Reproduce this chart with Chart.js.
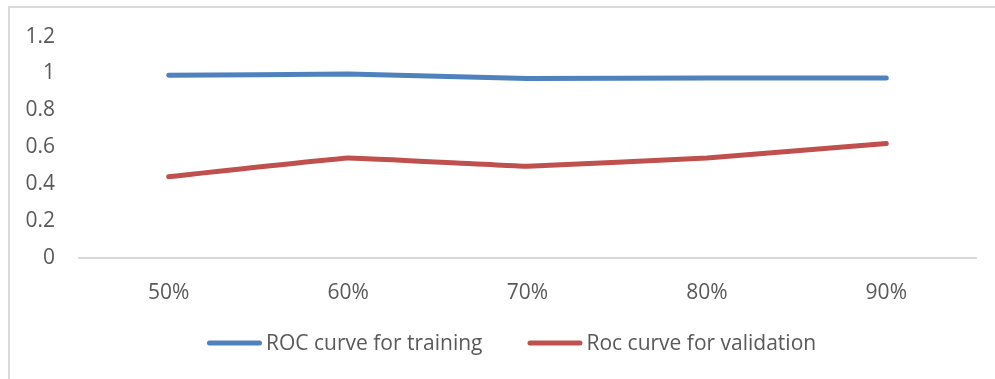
<!DOCTYPE html>
<html>
<head>
<meta charset="utf-8">
<script src="https://cdn.jsdelivr.net/npm/chart.js@4.4.1/dist/chart.umd.min.js"></script>
<style>
  html, body { margin: 0; padding: 0; background: #fff; width: 995px; height: 379px; overflow: hidden; }
  #frame { position: absolute; left: 8px; top: 6px; width: 1100px; height: 500px; border-left: 2px solid #d9d9d9; border-top: 2px solid #d9d9d9; }
  #c { position: absolute; left: 0; top: 0; }
</style>
</head>
<body>
<div id="frame"></div>
<canvas id="c" width="995" height="379"></canvas>
<script>
const categories = ["50%", "60%", "70%", "80%", "90%"];
const trainingValues = [0.99, 0.997, 0.973, 0.975, 0.975];
const validationValues = [0.441, 0.542, 0.497, 0.542, 0.621];
const seriesLabels = ["ROC curve for training", "Roc curve for validation"];
const yTicks = [0, 0.2, 0.4, 0.6, 0.8, 1, 1.2];

const FONT = "'Open Sans', sans-serif";
const TEXT = "#595959";

const legendPlugin = {
  id: "lineLegend",
  afterDraw(chart) {
    const ctx = chart.ctx;
    ctx.save();
    ctx.font = "21px " + FONT;
    ctx.textBaseline = "middle";
    ctx.textAlign = "left";
    let x = 207;
    const y = 343;
    chart.data.datasets.forEach((ds) => {
      ctx.strokeStyle = ds.borderColor;
      ctx.lineWidth = 5;
      ctx.lineCap = "round";
      ctx.beginPath();
      ctx.moveTo(x + 2.5, y);
      ctx.lineTo(x + 52.5, y);
      ctx.stroke();
      ctx.fillStyle = TEXT;
      ctx.fillText(ds.label, x + 59, y + 1);
      x += 59 + ctx.measureText(ds.label).width + 45;
    });
    ctx.restore();
  }
};

new Chart(document.getElementById("c"), {
  type: "line",
  data: {
    labels: categories,
    datasets: [
      { label: seriesLabels[0], data: trainingValues, borderColor: "#4f81bd", backgroundColor: "#4f81bd",
        borderWidth: 5, borderCapStyle: "round", borderJoinStyle: "round", pointRadius: 0, tension: 0.05, fill: false },
      { label: seriesLabels[1], data: validationValues, borderColor: "#c0504d", backgroundColor: "#c0504d",
        borderWidth: 5, borderCapStyle: "round", borderJoinStyle: "round", pointRadius: 0, tension: 0.05, fill: false }
    ]
  },
  options: {
    responsive: false,
    animation: false,
    layout: { padding: { left: 0, right: 19, top: 35, bottom: 74 } },
    plugins: { legend: { display: false }, tooltip: { enabled: false } },
    scales: {
      x: {
        offset: true,
        afterFit(s) { s.height = 47; },
        grid: { display: false, drawTicks: false, offset: true },
        border: { display: true, color: "#d9d9d9", width: 2 },
        ticks: { color: TEXT, font: { family: FONT, size: 21 }, padding: 22, maxRotation: 0, autoSkip: false }
      },
      y: {
        min: 0, max: 1.2,
        afterFit(s) { s.width = 79; },
        afterBuildTicks(s) { s.ticks = yTicks.map(v => ({ value: v })); },
        grid: { display: false, drawTicks: false },
        border: { display: false },
        ticks: { color: TEXT, font: { family: FONT, size: 21 }, padding: 24,
          callback: (v) => String(Math.round(v * 10) / 10) }
      }
    }
  },
  plugins: [legendPlugin]
});
</script>
</body>
</html>
